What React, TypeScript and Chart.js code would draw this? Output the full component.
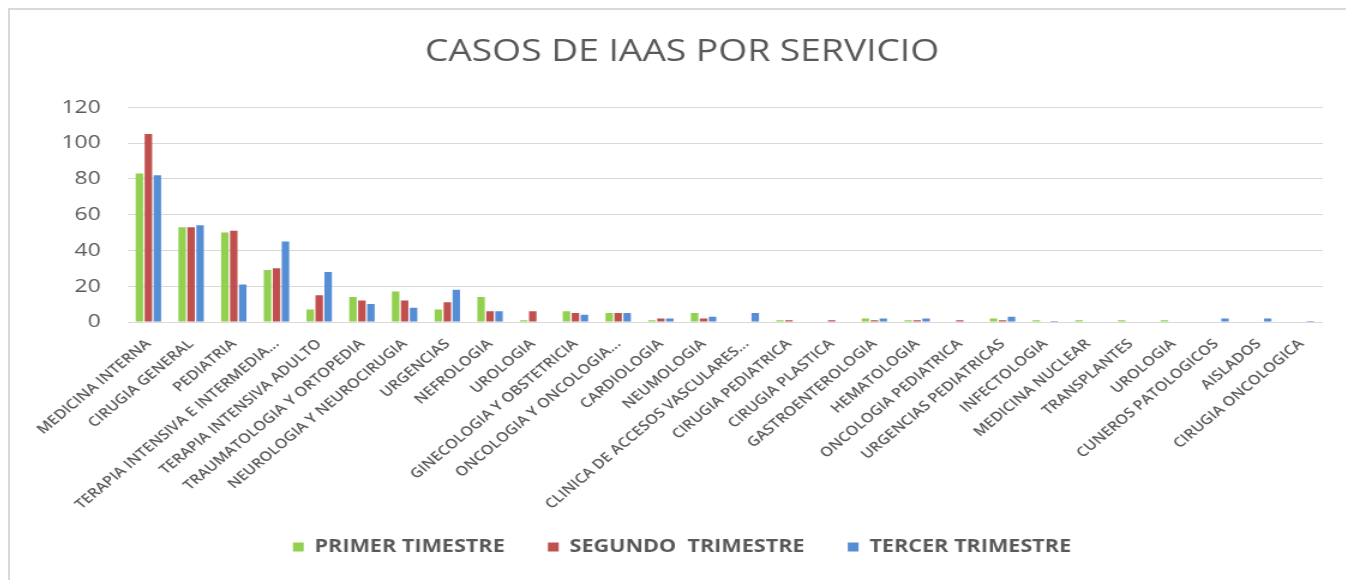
import React, { useEffect, useRef } from "react";
import { Chart, registerables } from "chart.js";

Chart.register(...registerables);

const categories = [
  "MEDICINA INTERNA",
  "CIRUGIA GENERAL",
  "PEDIATRIA",
  "TERAPIA INTENSIVA E INTERMEDIA...",
  "TERAPIA INTENSIVA ADULTO",
  "TRAUMATOLOGIA Y ORTOPEDIA",
  "NEUROLOGIA Y NEUROCIRUGIA",
  "URGENCIAS",
  "NEFROLOGIA",
  "UROLOGIA",
  "GINECOLOGIA Y OBSTETRICIA",
  "ONCOLOGIA Y ONCOLOGIA...",
  "CARDIOLOGIA",
  "NEUMOLOGIA",
  "CLINICA DE ACCESOS VASCULARES...",
  "CIRUGIA PEDIATRICA",
  "CIRUGIA PLASTICA",
  "GASTROENTEROLOGIA",
  "HEMATOLOGIA",
  "ONCOLOGIA PEDIATRICA",
  "URGENCIAS PEDIATRICAS",
  "INFECTOLOGIA",
  "MEDICINA NUCLEAR",
  "TRANSPLANTES",
  "UROLOGIA",
  "CUNEROS PATOLOGICOS",
  "AISLADOS",
  "CIRUGIA ONCOLOGICA",
];

const primerTrimestre = [83, 53, 50, 29, 7, 14, 17, 7, 14, 1, 6, 5, 1, 5, 0, 1, 0, 2, 1, 0, 2, 1, 1, 1, 1, 0, 0, 0];
const segundoTrimestre = [105, 53, 51, 30, 15, 12, 12, 11, 6, 6, 5, 5, 2, 2, 0, 1, 1, 1, 1, 1, 1, 0, 0, 0, 0, 0, 0, 0];
const tercerTrimestre = [82, 54, 21, 45, 28, 10, 8, 18, 6, 0, 4, 5, 2, 3, 5, 0, 0, 2, 2, 0, 3, 0.5, 0, 0, 0, 2, 2, 0.5];

const seriesNames = ["PRIMER TIMESTRE", "SEGUNDO  TRIMESTRE", "TERCER TRIMESTRE"];
const seriesColors = ["#92d050", "#c0504d", "#558ed5"];
const yTicks = [0, 20, 40, 60, 80, 100, 120];
const chartTitle = "CASOS DE IAAS POR SERVICIO";

const TEXT = "#595959";
const STRETCH = 1.2;
const CANVAS_W = 1120;
const CANVAS_H = 570;

export default function App() {
  const canvasRef = useRef<HTMLCanvasElement | null>(null);

  useEffect(() => {
    if (!canvasRef.current) return;
    Chart.defaults.font.family = "'Open Sans', sans-serif";
    const seriesData = [primerTrimestre, segundoTrimestre, tercerTrimestre];
    const chart = new Chart(canvasRef.current, {
      type: "bar",
      data: {
        labels: categories,
        datasets: seriesNames.map((name, i) => ({
          label: name,
          data: seriesData[i],
          backgroundColor: seriesColors[i],
          borderWidth: 0,
          categoryPercentage: 0.63,
          barPercentage: 0.83,
          yAxisID: "y",
        })),
      },
      options: {
        animation: false,
        responsive: false,
        devicePixelRatio: 1,
        layout: { padding: { left: 0, right: 0, top: 0, bottom: 14 } },
        plugins: {
          title: {
            display: true,
            text: chartTitle,
            color: TEXT,
            font: { family: "'Open Sans', sans-serif", size: 31, weight: "normal" },
            padding: { top: 24, bottom: 36 },
          },
          legend: {
            position: "bottom",
            labels: {
              boxWidth: 9,
              boxHeight: 9,
              padding: 36,
              color: TEXT,
              font: { family: "'Open Sans', sans-serif", size: 18, weight: "bold" },
            },
          },
          tooltip: { enabled: false },
        },
        scales: {
          x: {
            grid: { display: false },
            border: { display: false },
            ticks: {
              autoSkip: false,
              maxRotation: 45,
              minRotation: 45,
              color: TEXT,
              padding: 6,
              font: { size: 13.5, weight: "600" },
            },
            afterFit: (s: any) => {
              s.height = 180;
              s._computeLabelArea = () => undefined;
            },
          },
          y: {
            min: 0,
            max: 120,
            grid: { color: "#d9d9d9", drawTicks: false },
            border: { display: false },
            ticks: {
              color: TEXT,
              padding: 22,
              font: { size: 19 },
            },
            afterBuildTicks: (s: any) => {
              s.ticks = yTicks.map((v) => ({ value: v }));
            },
            afterFit: (s: any) => {
              s.width = 97.5;
            },
          },
          yRight: {
            position: "right",
            display: true,
            min: 0,
            max: 120,
            grid: { display: false, drawTicks: false },
            border: { display: false },
            ticks: { display: false },
            afterFit: (s: any) => {
              s.width = 26;
            },
          },
        },
      },
    });
    return () => chart.destroy();
  }, []);

  return (
    <div
      style={{
        width: 1346,
        height: 572,
        boxSizing: "border-box",
        borderTop: "2px solid #d9d9d9",
        borderLeft: "2px solid #d9d9d9",
        overflow: "hidden",
        background: "#fff",
      }}
    >
      <div
        style={{
          width: CANVAS_W,
          height: CANVAS_H,
          transform: `scaleX(${STRETCH})`,
          transformOrigin: "0 0",
        }}
      >
        <canvas ref={canvasRef} width={CANVAS_W} height={CANVAS_H} style={{ display: "block" }} />
      </div>
    </div>
  );
}
